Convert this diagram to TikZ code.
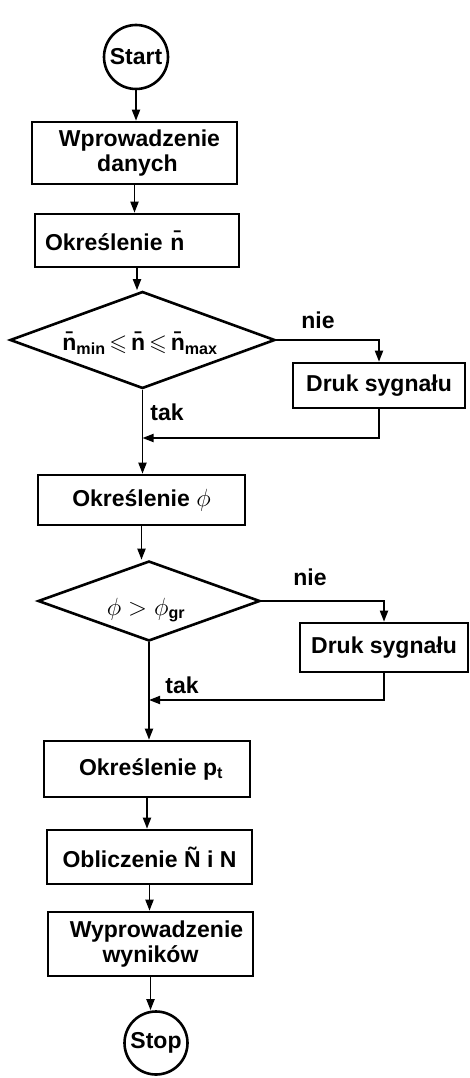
\documentclass[tikz,border=0pt]{standalone}
\usepackage{amsmath,amssymb}
\usepackage{fontspec}
\setmainfont{Liberation Sans}
\usetikzlibrary{arrows.meta,shapes.geometric}
\begin{document}
\begin{tikzpicture}[x=1pt,y=-1pt,
  font=\fontsize{23}{25}\selectfont\bfseries,
  box/.style={draw, line width=2.6pt, inner sep=0pt, align=center},
  term/.style={draw, circle, line width=2.6pt, inner sep=0pt},
  dec/.style={draw, diamond, line width=2.6pt, inner sep=0pt},
  arr/.style={line width=1.8pt, -{Triangle[length=11pt,width=8pt]}},
  conn/.style={line width=1.8pt},
  lbl/.style={inner sep=0pt}]
\useasboundingbox (0,0) rectangle (469,1078);

\node[term, minimum size=64pt] (start) at (136,57) {Start};
\node[box, minimum width=205pt, minimum height=62pt] (in) at (134.5,153) {\hspace*{10pt}Wprowadzenie\\\hspace*{6pt}danych};
\node[box, minimum width=204pt, minimum height=53pt, text width=184pt, align=left] (okn) at (137,240.5) {Określenie n̄};
\node[dec, minimum width=265pt, minimum height=97pt] (d1) at (142.5,340) {};
\node[lbl] (d1t) at (140,343) {n̄\textsubscript{min}\,$\leqslant$\,n̄\,$\leqslant$\,n̄\textsubscript{max}};
\node[box, minimum width=172pt, minimum height=45pt] (dr1) at (379,385.5) {Druk sygnału};
\node[lbl] (nie1) at (318,320) {nie};
\node[lbl] (tak1) at (167,412) {tak};

\node[box, minimum width=207pt, minimum height=50pt] (okphi) at (141.5,500) {Określenie $\phi$};
\node[dec, minimum width=222pt, minimum height=80pt] (d2) at (149,601) {};
\node[lbl] (d2t) at (146,610) {$\phi > \phi_{\text{gr}}$};
\node[box, minimum width=168pt, minimum height=49pt] (dr2) at (384,647.5) {Druk sygnału};
\node[lbl] (nie2) at (310,577) {nie};
\node[lbl] (tak2) at (182,685) {tak};

\node[box, minimum width=206pt, minimum height=56pt] (okpt) at (147,769) {\hspace*{8pt}Określenie p\textsubscript{t}};
\node[box, minimum width=205pt, minimum height=54pt] (obl) at (149.5,857) {Obliczenie Ñ i N};
\node[box, minimum width=205pt, minimum height=64pt] (wyp) at (150.5,944) {\hspace*{12pt}Wyprowadzenie\\wyników};
\node[term, minimum size=63pt] (stop) at (156,1043) {Stop};

\coordinate (j1) at (d1.south |- 0,438);
\coordinate (j2) at (d2.south |- 0,700);

\draw[arr] (start.south) -- (start.south |- in.north);
\draw[arr] (in.south) -- (in.south |- okn.north);
\draw[arr] (okn.south) -- (okn.south |- d1.north);
\draw[arr] (d1.east) -| (dr1.north);
\draw[conn] (d1.south) -- (j1);
\draw[arr] (dr1.south) |- (j1);
\draw[arr] (j1) -- (j1 |- okphi.north);
\draw[arr] (okphi.south) -- (okphi.south |- d2.north);
\draw[arr] (d2.east) -| (dr2.north);
\draw[conn] (d2.south) -- (j2);
\draw[arr] (dr2.south) |- (j2);
\draw[arr] (j2) -- (j2 |- okpt.north);
\draw[arr] (okpt.south) -- (okpt.south |- obl.north);
\draw[arr] (obl.south) -- (obl.south |- wyp.north);
\draw[arr] (wyp.south) -- (wyp.south |- stop.north);
\end{tikzpicture}
\end{document}
